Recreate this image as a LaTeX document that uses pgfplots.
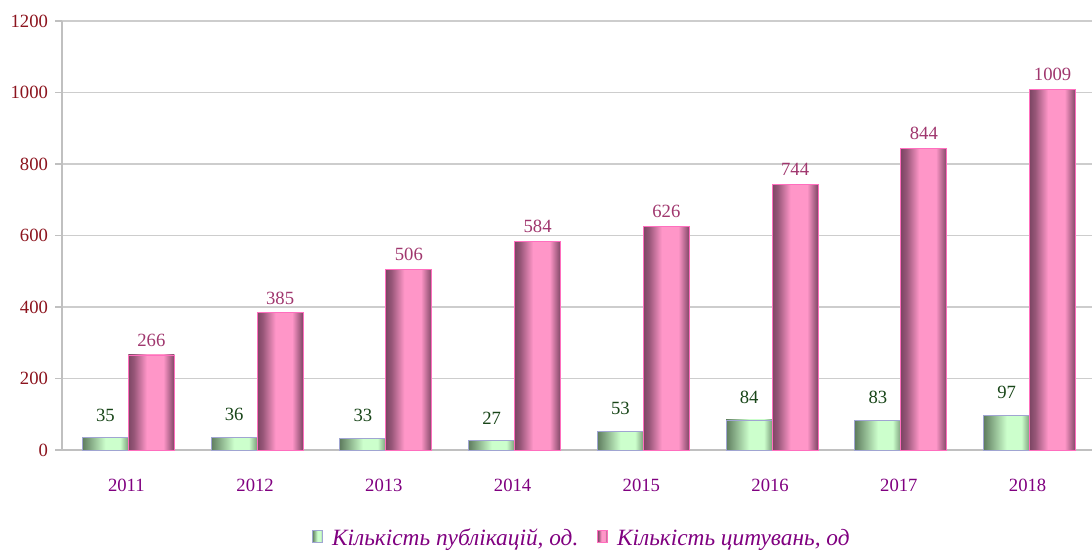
\documentclass[border=0pt]{standalone}
\usepackage{fontspec}
\setmainfont{Liberation Serif}
\usepackage{pgfplots}
\pgfplotsset{compat=1.18}
\definecolor{gdark}{RGB}{95,125,95}
\definecolor{glight}{RGB}{204,255,204}
\definecolor{pdark}{RGB}{125,70,100}
\definecolor{plight}{RGB}{255,150,200}
\definecolor{ytxt}{RGB}{140,20,30}
\definecolor{xtxt}{RGB}{128,0,128}
\definecolor{gtxt}{RGB}{25,70,25}
\definecolor{ptxt}{RGB}{160,55,110}
\definecolor{axgray}{RGB}{192,192,192}
\definecolor{grgray}{RGB}{205,205,205}
\definecolor{gedge}{RGB}{160,165,210}
\definecolor{pedge}{RGB}{255,110,190}
\pgfdeclarehorizontalshading{greenbar}{100bp}{color(0bp)=(gdark); color(25bp)=(gdark); color(50bp)=(glight); color(66bp)=(glight); color(75bp)=(gdark!75!glight); color(100bp)=(gdark!75!glight)}
\pgfdeclarehorizontalshading{pinkbar}{100bp}{color(0bp)=(pdark); color(25bp)=(pdark); color(31bp)=(pdark!80!plight); color(45bp)=(plight); color(63bp)=(plight); color(75bp)=(pdark); color(100bp)=(pdark)}
\pgfplotsset{
  gbar/.style={shade, shading=greenbar, draw=gedge, line width=0.6pt},
  pbar/.style={shade, shading=pinkbar, draw=pedge, line width=0.6pt},
  gplot/.style={gbar, bar shift=-15.75pt, forget plot,
    every node near coord/.append style={text=gtxt, yshift=8.5pt}},
  pplot/.style={pbar, bar shift=18.75pt, forget plot,
    every node near coord/.append style={text=ptxt, yshift=2.5pt}},
}
\begin{document}
\begin{tikzpicture}
\path[use as bounding box] (-46.5pt,-75.75pt) rectangle (772.5pt,337.5pt);
\begin{axis}[
  at={(0,0)}, anchor=south west,
  scale only axis, width=772.5pt, height=321.75pt,
  ymin=0, ymax=1200, ytick={0,200,...,1200},
  xmin=-0.5, xmax=7.5, xtick={0,...,7},
  xticklabels={2011,2012,2013,2014,2015,2016,2017,2018},
  xtick style={draw=none},
  extra x ticks={-0.5,0.5,...,7.5}, extra x tick labels={},
  extra x tick style={major tick length=5pt, tick style={draw=axgray, line width=1.2pt}, grid=none},
  ytick style={draw=axgray, line width=1.2pt},
  major tick length=5pt,
  tick align=outside,
  axis x line*=bottom, axis y line*=left,
  axis line style={draw=axgray, line width=1.5pt},
  ymajorgrids, grid style={draw=grgray, line width=1pt},
  /pgf/number format/assume math mode=true,
  /pgf/number format/1000 sep={},
  font=\fontsize{14}{16}\selectfont,
  yticklabel style={text=ytxt, xshift=-2pt},
  xticklabel style={text=xtxt, yshift=-13pt},
  ybar=0pt, bar width=34.5pt,
  nodes near coords,
  legend style={at={(axis description cs:0.505,-0.205)}, anchor=center, draw=none, fill=none,
    legend columns=2, font=\fontsize{17.5}{19}\selectfont\itshape, text=xtxt,
    /tikz/every even column/.append style={column sep=12pt},
    /tikz/every odd column/.append style={column sep=5pt}},
  legend image code/.code={\path[#1] (0pt,-3.5pt) rectangle (7.5pt,5.5pt);},
]
\addlegendimage{gbar}
\addlegendentry{Кількість публікацій, од.}
\addlegendimage{pbar}
\addlegendentry{Кількість цитувань, од}
% publications
\addplot[gplot] coordinates {(0,35)};
\addplot[gplot] coordinates {(1,36)};
\addplot[gplot] coordinates {(2,33)};
\addplot[gplot] coordinates {(3,27)};
\addplot[gplot] coordinates {(4,53)};
\addplot[gplot] coordinates {(5,84)};
\addplot[gplot] coordinates {(6,83)};
\addplot[gplot] coordinates {(7,97)};
% citations
\addplot[pplot] coordinates {(0,266)};
\addplot[pplot] coordinates {(1,385)};
\addplot[pplot] coordinates {(2,506)};
\addplot[pplot] coordinates {(3,584)};
\addplot[pplot] coordinates {(4,626)};
\addplot[pplot] coordinates {(5,744)};
\addplot[pplot] coordinates {(6,844)};
\addplot[pplot] coordinates {(7,1009)};
\end{axis}
\end{tikzpicture}
\end{document}
